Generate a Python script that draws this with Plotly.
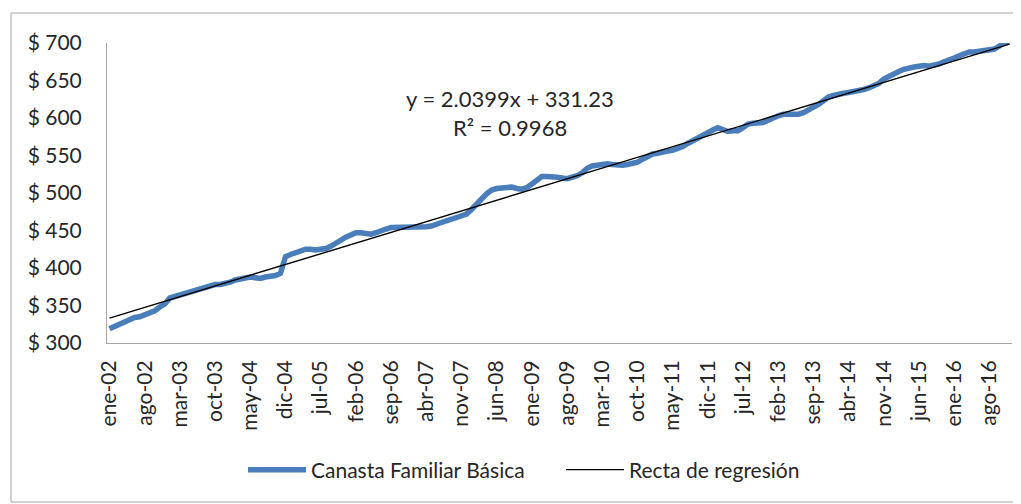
import plotly.graph_objects as go

# ---- data (monthly, ene-02 .. dic-16) ----
canasta = [
    # 2002
    319, 322, 326, 329, 332, 334, 335, 338, 339, 343, 348, 352,
    # 2003
    360, 362, 364, 367, 368, 370, 372, 374, 376, 378, 378, 379,
    # 2004
    381, 384, 385, 387, 388, 387, 386, 388, 389, 390, 393, 415,
    # 2005
    418, 420, 423, 425, 425, 424, 425, 426, 429, 434, 437, 441,
    # 2006
    444, 447, 447, 446, 445, 447, 450, 452, 454, 454, 454, 454,
    # 2007
    454, 455, 455, 455, 456, 459, 461, 463, 465, 467, 470, 472,
    # 2008
    478, 484, 492, 499, 504, 506, 507, 507, 508, 506, 505, 507,
    # 2009
    512, 518, 522, 522, 522, 521, 520, 519, 521, 523, 527, 533,
    # 2010
    536, 537, 539, 539, 538, 537, 537, 538, 539, 541, 545, 549,
    # 2011
    552, 553, 555, 556, 557, 559, 562, 566, 570, 573, 578, 581,
    # 2012
    584, 587, 585, 582, 583, 583, 587, 592, 593, 594, 594, 597,
    # 2013
    601, 603, 605, 605, 605, 605, 607, 610, 613, 618, 623, 628,
    # 2014
    630, 632, 633, 634, 635, 636, 638, 640, 643, 646, 652, 656,
    # 2015
    659, 662, 665, 667, 668, 669, 670, 669, 670, 672, 675, 677,
    # 2016
    680, 683, 686, 688, 688, 689, 690, 691, 692, 696, 701, 701,
]
month_names = ["ene", "feb", "mar", "abr", "may", "jun",
               "jul", "ago", "sep", "oct", "nov", "dic"]
start_year = 2002
tick_step = 7
slope = 2.0399
intercept = 331.23
r2 = 0.9968
y_ticks = [300, 350, 400, 450, 500, 550, 600, 650, 700]

n = len(canasta)
idx = list(range(n))
labels = [f"{month_names[i % 12]}-{(start_year + i // 12) % 100:02d}" for i in idx]
regression = [slope * (i + 1) + intercept for i in idx]

tickvals = idx[::tick_step]
ticktext = [labels[i] for i in tickvals]

FONT = "Lato"
TXT = "#262626"
FS = 21

# page offset caused by the default body margin of the html page
OFF = 8
FIG_W, FIG_H = 1021 - OFF, 504 - OFF
# plot area in page pixels: x 107..1012, y 43..343
L = 107 - OFF
T = 43 - OFF
R = 1021 - 1012 - 0
B = FIG_H - (343 - OFF)
W = FIG_W - L - R
H = FIG_H - T - B


def px_x(px):
    return (px - OFF - L) / W


def px_y(py):
    return (FIG_H - B - (py - OFF)) / H


fig = go.Figure()
fig.add_trace(go.Scatter(
    x=idx, y=canasta, mode="lines", name="Canasta Familiar Básica",
    line=dict(color="#4a7ebb", width=5.5),
))
fig.add_trace(go.Scatter(
    x=idx, y=regression, mode="lines", name="Recta de regresión",
    line=dict(color="#000000", width=1.4),
))

fig.add_annotation(
    x=px_x(510), y=px_y(83), xref="paper", yref="paper",
    text=f"y = {slope}x + {intercept}", showarrow=False,
    font=dict(family=FONT, size=22, color=TXT),
)
fig.add_annotation(
    x=px_x(510), y=px_y(112), xref="paper", yref="paper",
    text=f"R² = {r2}", showarrow=False,
    font=dict(family=FONT, size=22, color=TXT),
)

# outer chart border
fig.add_shape(
    type="rect", xref="paper", yref="paper",
    x0=px_x(11), x1=px_x(1019), y0=px_y(502), y1=px_y(13),
    line=dict(color="#a6a6a6", width=1), layer="below",
)

fig.update_layout(
    width=FIG_W, height=FIG_H,
    margin=dict(l=L, r=R, t=T, b=B, autoexpand=False),
    paper_bgcolor="white", plot_bgcolor="white",
    font=dict(family=FONT, size=FS, color=TXT),
    showlegend=True,
    legend=dict(
        orientation="h", x=px_x(243), xanchor="left",
        y=px_y(470), yanchor="middle",
        font=dict(family=FONT, size=FS, color=TXT),
        itemwidth=58, entrywidth=245, entrywidthmode="pixels",
        tracegroupgap=0,
    ),
    xaxis=dict(
        range=[-0.5, n - 0.5], tickmode="array",
        tickvals=tickvals, ticktext=ticktext, tickangle=-90,
        showgrid=False, zeroline=False,
        showline=True, linecolor="#a6a6a6", linewidth=1,
        ticks="", ticklabelstandoff=8,
        tickfont=dict(family=FONT, size=FS, color=TXT),
    ),
    yaxis=dict(
        range=[300, 700], tickmode="array", tickvals=y_ticks,
        ticktext=[f"$ {v}" for v in y_ticks],
        showgrid=False, zeroline=False,
        showline=True, linecolor="#a6a6a6", linewidth=1,
        ticks="", ticklabelstandoff=20,
        tickfont=dict(family=FONT, size=FS, color=TXT),
    ),
)

fig.write_html("out.html")
